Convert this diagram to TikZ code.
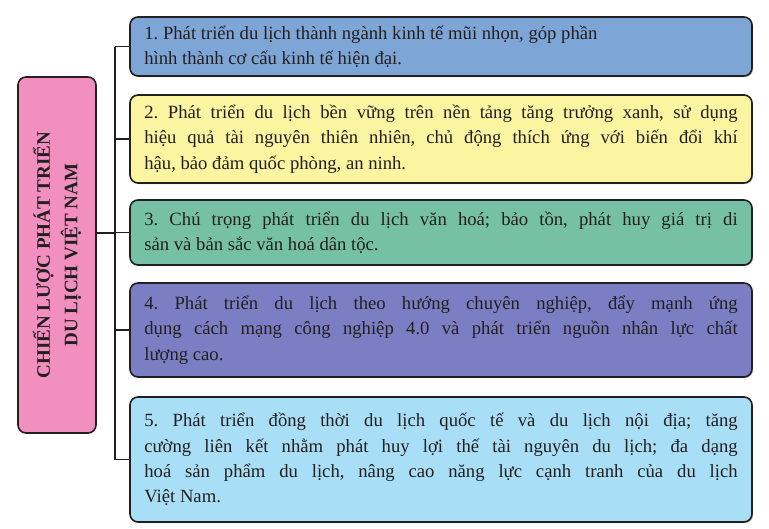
\documentclass[tikz,border=0pt]{standalone}
\usepackage{fontspec}
\setmainfont{Liberation Serif}
\usetikzlibrary{shadows}

\definecolor{PinkBox}{HTML}{F190BF}
\definecolor{BlueBox}{HTML}{7DA5D6}
\definecolor{YellowBox}{HTML}{FBF4A0}
\definecolor{GreenBox}{HTML}{76C1A5}
\definecolor{PurpleBox}{HTML}{7B7EC3}
\definecolor{SkyBox}{HTML}{A8DEF6}
\definecolor{InkText}{HTML}{231F20}

\frenchspacing

\begin{document}
\begin{tikzpicture}[x=0.75pt, y=-0.75pt,
		goalbox/.style={draw=InkText, line width=1.2pt, rounded corners=6pt,
			drop shadow={shadow xshift=0.8pt, shadow yshift=-0.8pt, opacity=0.5},
			minimum width=466.5pt, text width=445pt, inner xsep=10.75pt,
			align=justify, text=InkText, font=\fontsize{14}{19}\selectfont},
		link/.style={draw=InkText, line width=0.8pt}]
		\useasboundingbox (0, 0) rectangle (769, 529);

		\node[draw=InkText, line width=1.2pt, rounded corners=6pt, fill=PinkBox,
			rotate=90, minimum width=267pt, minimum height=58.5pt, align=center,
			text=InkText, font=\fontsize{14.3}{20.5}\selectfont\bfseries] (Strategy) at (57, 255)
			{CHIẾN LƯỢC PHÁT TRIỂN\\DU LỊCH VIỆT NAM};

		\node[goalbox, fill=BlueBox, minimum height=44.25pt] (Goal1) at (441, 46.5)
			{1. Phát triển du lịch thành ngành kinh tế mũi nhọn, góp phần\\
			hình thành cơ cấu kinh tế hiện đại.};
		\node[goalbox, fill=YellowBox, minimum height=66pt] (Goal2) at (441, 139)
			{2. Phát triển du lịch bền vững trên nền tảng tăng trưởng xanh, sử dụng\linebreak
			hiệu quả tài nguyên thiên nhiên, chủ động thích ứng với biến đổi khí\linebreak
			hậu, bảo đảm quốc phòng, an ninh.};
		\node[goalbox, fill=GreenBox, minimum height=48.75pt] (Goal3) at (441, 232.5)
			{3. Chú trọng phát triển du lịch văn hoá; bảo tồn, phát huy giá trị di\linebreak
			sản và bản sắc văn hoá dân tộc.};
		\node[goalbox, fill=PurpleBox, minimum height=70.5pt] (Goal4) at (441, 330)
			{4. Phát triển du lịch theo hướng chuyên nghiệp, đẩy mạnh ứng\linebreak
			dụng cách mạng công nghiệp 4.0 và phát triển nguồn nhân lực chất\linebreak
			lượng cao.};
		\node[goalbox, fill=SkyBox, minimum height=93.75pt] (Goal5) at (441, 459.5)
			{5. Phát triển đồng thời du lịch quốc tế và du lịch nội địa; tăng\linebreak
			cường liên kết nhằm phát huy lợi thế tài nguyên du lịch; đa dạng\linebreak
			hoá sản phẩm du lịch, nâng cao năng lực cạnh tranh của du lịch\linebreak
			Việt Nam.};

		\coordinate (Trunk) at (115, 233);

		\draw[link] (Strategy.south |- Trunk) -- (Trunk);
		\draw[link] (Goal1.west -| Trunk) -- (Goal5.west -| Trunk);
		\draw[link] (Goal1.west -| Trunk) -- (Goal1.west);
		\draw[link] (Goal2.west -| Trunk) -- (Goal2.west);
		\draw[link] (Goal3.west -| Trunk) -- (Goal3.west);
		\draw[link] (Goal4.west -| Trunk) -- (Goal4.west);
		\draw[link] (Goal5.west -| Trunk) -- (Goal5.west);
	\end{tikzpicture}
\end{document}
